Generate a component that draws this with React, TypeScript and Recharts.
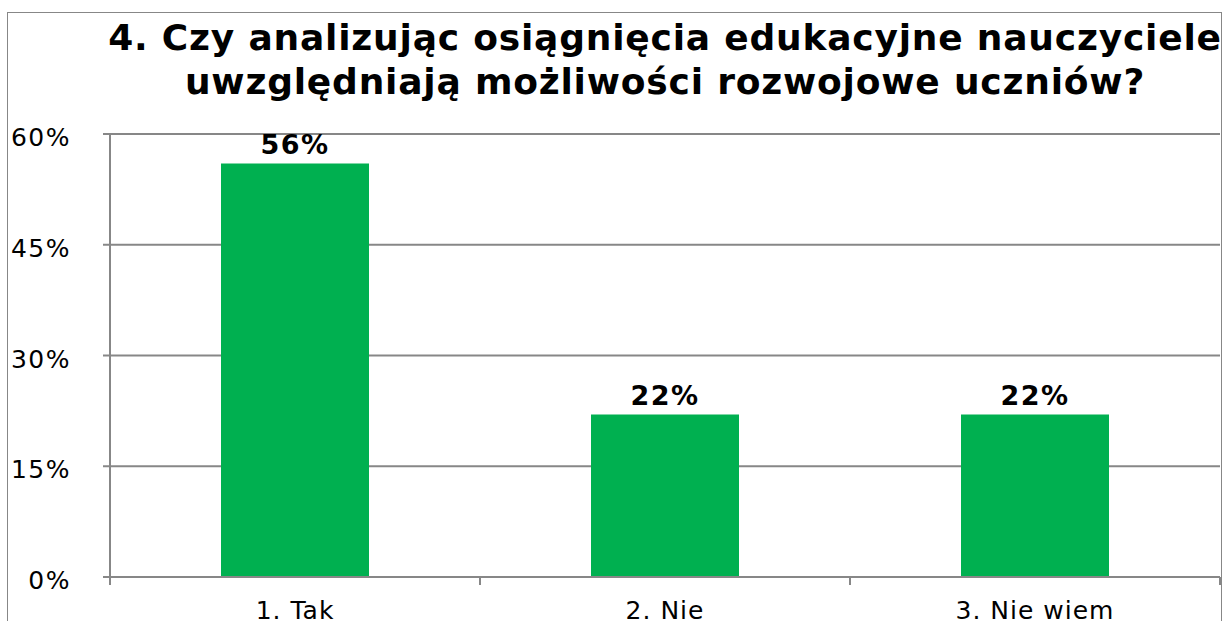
import React from "react";
import { BarChart, Bar, XAxis, YAxis, CartesianGrid, LabelList } from "recharts";

const titleLines = [
  "4. Czy analizując osiągnięcia edukacyjne nauczyciele",
  "uwzględniają możliwości rozwojowe uczniów?",
];
const categories = ["1. Tak", "2. Nie", "3. Nie wiem"];
const values = [56, 22, 22];
const yTicks = [0, 15, 30, 45, 60];

const data = categories.map((name, i) => ({ name, value: values[i] }));

const FONT = "'DejaVu Sans', Verdana, sans-serif";
const GRAY = "#878787";

const YTick = (props: any) => {
  const { x, y, payload } = props;
  return (
    <text x={x} y={y} dy={12} textAnchor="end" fontFamily={FONT} fontSize={25} letterSpacing={1.5} fill="#000">
      {payload.value + "%"}
    </text>
  );
};

const XTick = (props: any) => {
  const { x, y, payload } = props;
  const half = payload && payload.offset ? payload.offset : 185;
  return (
    <g>
      <line x1={x - half} x2={x - half} y1={y - 8} y2={y} stroke={GRAY} strokeWidth={2} />
      <line x1={x + half} x2={x + half} y1={y - 8} y2={y} stroke={GRAY} strokeWidth={2} />
      <text x={x} y={y + 34} textAnchor="middle" fontFamily={FONT} fontSize={25} letterSpacing={1} fill="#000">
        {payload.value}
      </text>
    </g>
  );
};

export default function App() {
  return (
    <div
      style={{
        position: "absolute",
        left: 0,
        top: 0,
        width: 1223,
        height: 621,
        overflow: "hidden",
        background: "#fff",
      }}
    >
      <div
        style={{
          position: "absolute",
          left: 7,
          top: 12,
          width: 1215,
          height: 700,
          border: `1px solid ${GRAY}`,
          boxSizing: "border-box",
        }}
      />
      <div style={{ position: "absolute", left: 0, top: 0 }}>
        <BarChart
          width={1223}
          height={621}
          data={data}
          margin={{ top: 134, right: 3, bottom: 0, left: 0 }}
          barCategoryGap="30%"
        >
          <CartesianGrid vertical={false} stroke={GRAY} strokeWidth={2} />
          <YAxis
            width={110}
            domain={[0, 60]}
            ticks={yTicks}
            interval={0}
            tickSize={7}
            tickMargin={32}
            axisLine={{ stroke: GRAY, strokeWidth: 2 }}
            tickLine={{ stroke: GRAY, strokeWidth: 2 }}
            tick={<YTick />}
          />
          <XAxis
            dataKey="name"
            height={44}
            tickSize={8}
            tickMargin={0}
            interval={0}
            axisLine={{ stroke: GRAY, strokeWidth: 2 }}
            tickLine={false}
            tick={<XTick />}
          />
          <Bar dataKey="value" fill="#00B050" isAnimationActive={false}>
            <LabelList
              dataKey="value"
              position="top"
              offset={10}
              formatter={(v: any) => v + "%"}
              style={{ fontFamily: FONT, fontSize: 27, fontWeight: "bold", fill: "#000", letterSpacing: 1.5 }}
            />
          </Bar>
        </BarChart>
      </div>
      <svg
        width={1223}
        height={140}
        style={{ position: "absolute", left: 0, top: 0, pointerEvents: "none" }}
      >
        <text x={665} y={50} textAnchor="middle" fontFamily={FONT} fontSize={36} letterSpacing={0.8} fontWeight="bold" fill="#000">
          {titleLines[0]}
        </text>
        <text x={665} y={94} textAnchor="middle" fontFamily={FONT} fontSize={36} letterSpacing={0.8} fontWeight="bold" fill="#000">
          {titleLines[1]}
        </text>
      </svg>
    </div>
  );
}
